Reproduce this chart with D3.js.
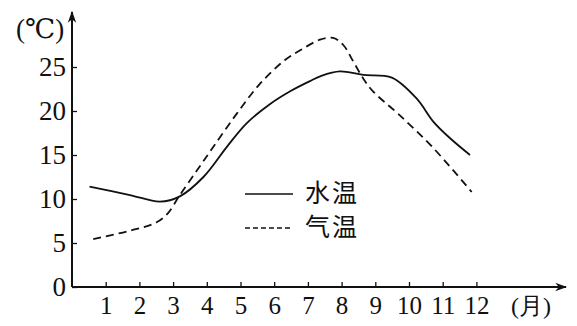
<!DOCTYPE html>
<html>
<head>
<meta charset="utf-8">
<script src="https://cdn.jsdelivr.net/npm/d3@7"></script>
<style>
  body { margin: 0; background: #fff; }
  svg { display: block; }
</style>
</head>
<body>
<div class="container"></div>
<script>
// months on x, temperature (°C) on y
var waterMonths = [0.52, 1.72, 2.61, 3.2, 3.9, 4.59, 5.18, 5.88, 6.5, 7.06, 7.4, 7.95, 8.64, 9.49, 10.23, 10.72, 11.22, 11.81];
var waterTemps  = [11.4, 10.45, 9.7, 10.3, 12.5, 15.9, 18.6, 20.8, 22.3, 23.4, 24.0, 24.5, 24.1, 23.8, 21.4, 18.8, 16.9, 15.0];

var airMonths = [0.63, 1.72, 2.51, 2.85, 3.2, 3.7, 4.19, 4.89, 5.58, 6.32, 6.77, 7.36, 7.75, 8.05, 8.35, 8.64, 8.94, 9.73, 10.72, 11.86];
var airTemps  = [5.45, 6.4, 7.35, 8.4, 10.45, 13.2, 15.9, 19.7, 23.1, 25.8, 26.9, 28.1, 28.3, 27.5, 25.6, 23.7, 22.2, 19.5, 15.8, 10.8];

var monthTicks = [1, 2, 3, 4, 5, 6, 7, 8, 9, 10, 11, 12];
var tempTicks = [0, 5, 10, 15, 20, 25];
var legendNames = ['水温', '气温'];

const WIDTH = 577;
const HEIGHT = 326;
const X0 = 72;
const Y0 = 287;
const SERIF = "'Liberation Serif', 'DejaVu Serif', serif";

var xScale = d3.scaleLinear().domain([0, 12]).range([X0, X0 + 33.7 * 12]);
var yScale = d3.scaleLinear().domain([0, 25]).range([Y0, 67]);

var svg = d3.select('.container').append('svg')
    .attr('width', WIDTH)
    .attr('height', HEIGHT);

svg.append('defs').append('marker')
    .attr('id', 'arrow')
    .attr('viewBox', '0 0 10 10')
    .attr('refX', 9).attr('refY', 5)
    .attr('markerWidth', 12).attr('markerHeight', 12)
    .attr('markerUnits', 'userSpaceOnUse')
    .attr('orient', 'auto')
    .append('path')
    .attr('d', 'M0,1.5 L10,5 L0,8.5 L3,5 Z')
    .attr('fill', '#111');

// axes
var xAxis = svg.append('g')
    .attr('transform', 'translate(0,' + Y0 + ')')
    .call(d3.axisBottom(xScale).tickValues(monthTicks).tickSize(-5).tickPadding(9));
xAxis.select('.domain').remove();
xAxis.selectAll('text').attr('fill', '#111')
    .style('font-family', SERIF).style('font-size', '25px');
xAxis.selectAll('line').attr('stroke', '#111').attr('stroke-width', 1.3);

var yAxis = svg.append('g')
    .attr('transform', 'translate(' + X0 + ',0)')
    .call(d3.axisLeft(yScale).tickValues(tempTicks).tickSize(-5).tickPadding(6));
yAxis.select('.domain').remove();
yAxis.selectAll('text').attr('fill', '#111')
    .style('font-family', SERIF).style('font-size', '27px');
yAxis.selectAll('line').attr('stroke', '#111').attr('stroke-width', 1.3);

svg.append('line')
    .attr('x1', X0).attr('y1', Y0).attr('x2', 566).attr('y2', Y0)
    .attr('stroke', '#111').attr('stroke-width', 2)
    .attr('marker-end', 'url(#arrow)');
svg.append('line')
    .attr('x1', X0).attr('y1', Y0).attr('x2', X0).attr('y2', 12)
    .attr('stroke', '#111').attr('stroke-width', 2)
    .attr('marker-end', 'url(#arrow)');

// unit labels
svg.append('text')
    .attr('x', 16).attr('y', 38)
    .style('font-family', SERIF).style('font-size', '27px')
    .attr('fill', '#111')
    .text('(℃)');
svg.append('text')
    .attr('x', 511).attr('y', 314)
    .style('font-family', SERIF).style('font-size', '24px')
    .attr('fill', '#111')
    .text('(月)');

// lines
var line = d3.line()
    .x(function (d) { return xScale(d[0]); })
    .y(function (d) { return yScale(d[1]); })
    .curve(d3.curveCatmullRom.alpha(0.5));

var water = d3.zip(waterMonths, waterTemps);
var air = d3.zip(airMonths, airTemps);

svg.append('path')
    .attr('d', line(water))
    .attr('fill', 'none')
    .attr('stroke', '#111')
    .attr('stroke-width', 1.8);

svg.append('path')
    .attr('d', line(air))
    .attr('fill', 'none')
    .attr('stroke', '#111')
    .attr('stroke-width', 1.8)
    .attr('stroke-dasharray', '8,5');

// legend
var legend = svg.append('g').attr('transform', 'translate(245,0)');
[194, 228].forEach(function (y, i) {
    legend.append('line')
        .attr('x1', 0).attr('x2', 48)
        .attr('y1', y).attr('y2', y)
        .attr('stroke', '#111')
        .attr('stroke-width', 1.5)
        .attr('stroke-dasharray', i === 0 ? null : '5,3');
    legend.append('text')
        .attr('x', 60).attr('y', y + 8)
        .style('font-family', "'Noto Sans CJK SC', sans-serif").style('font-size', '25px')
        .attr('letter-spacing', 2)
        .attr('fill', '#111')
        .text(legendNames[i]);
});
</script>
</body>
</html>
